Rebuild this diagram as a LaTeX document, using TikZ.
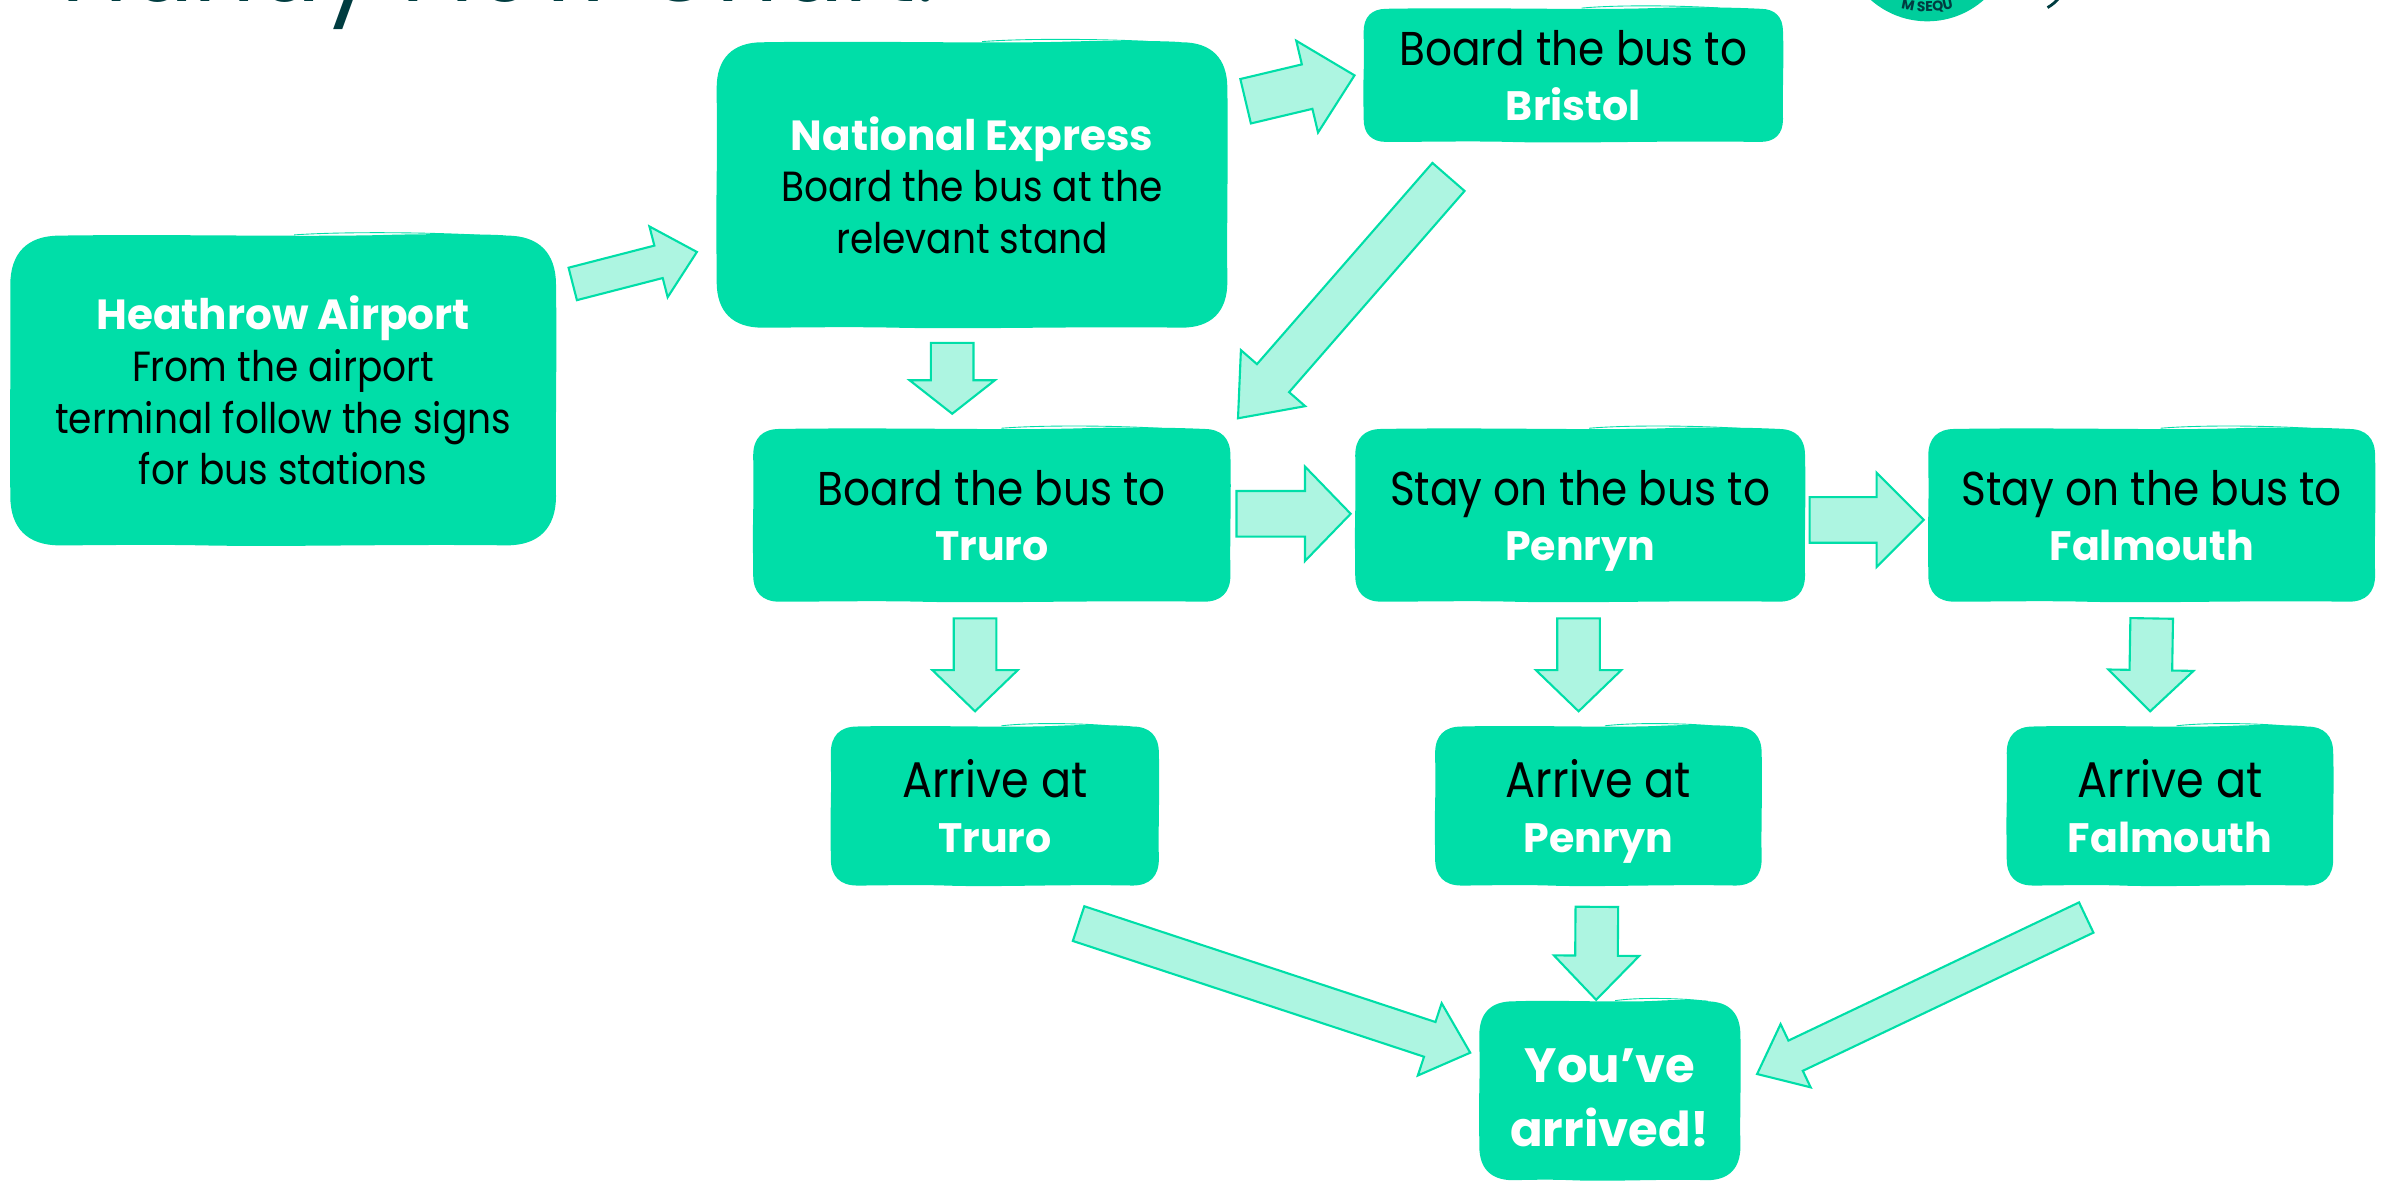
\documentclass[tikz,border=0pt]{standalone}
\usepackage{fontspec}
\setmainfont{Poppins}[FakeStretch=0.89, BoldFeatures={FakeStretch=1}]
\usetikzlibrary{positioning, calc, backgrounds, decorations.text}
\definecolor{boxgreen}{HTML}{00DEA8}
\definecolor{logogreen}{HTML}{00CE9C}
\definecolor{arrowfill}{HTML}{ADF5E1}
\definecolor{titleteal}{HTML}{003C40}
\newlength{\un}
\setlength{\un}{0.03045cm}
\newcommand{\place}[2][23.4]{\textcolor{white}{\fontsize{#1}{30}\selectfont\bfseries\raisebox{0pt}[\height][0pt]{#2}}}
% rough hand drawn box behind a node
\newcommand{\roughbox}[2]{
  \fill[boxgreen] let \p1=(#1.north west), \p2=(#1.south east), \n1={\x2-\x1}, \n2={\y1-\y2} in
    (\x1,\y1-#2) .. controls (\x1,\y1-.35*#2) and (\x1+.35*#2,\y1) .. (\x1+#2,\y1)
    .. controls (\x1+.3*\n1,\y1+1pt) and (\x1+.55*\n1,\y1-1pt) .. (\x1+.7*\n1,\y1+.5pt)
    .. controls (\x1+.8*\n1,\y1+1.2pt) and (\x1+.9*\n1,\y1+.6pt) .. (\x2-#2,\y1)
    .. controls (\x2-.35*#2,\y1) and (\x2,\y1-.35*#2) .. (\x2,\y1-#2)
    .. controls (\x2+.6pt,\y1-.4*\n2) and (\x2-.4pt,\y1-.6*\n2) .. (\x2,\y2+#2)
    .. controls (\x2,\y2+.35*#2) and (\x2-.35*#2,\y2) .. (\x2-#2,\y2)
    .. controls (\x1+.7*\n1,\y2+.8pt) and (\x1+.5*\n1,\y2-1pt) .. (\x1+.35*\n1,\y2)
    .. controls (\x1+.25*\n1,\y2+.6pt) and (\x1+.15*\n1,\y2) .. (\x1+#2,\y2)
    .. controls (\x1+.35*#2,\y2) and (\x1,\y2+.35*#2) .. (\x1,\y2+#2)
    .. controls (\x1-.5pt,\y2+.6*\n2) and (\x1+.4pt,\y2+.4*\n2) .. cycle;
  \draw[boxgreen, line width=.5pt] let \p1=(#1.north west), \p2=(#1.south east), \n1={\x2-\x1} in
    (\x1+.52*\n1,\y1+.4pt) .. controls (\x1+.6*\n1,\y1+2.2pt) and (\x1+.75*\n1,\y1+2pt) .. (\x1+.85*\n1,\y1+.4pt);
}
% block arrow between two named coordinates: shaft half width, head half width, head length
\newcommand{\flowarrow}[5]{
  \coordinate (headbase) at ($(#2)!#5*\un!(#1)$);
  \draw[flowline] ($(#1)!#3*\un!90:(#2)$) -- ($(headbase)!#3*\un!90:(#2)$) -- ($(headbase)!#4*\un!90:(#2)$)
    -- (#2) -- ($(headbase)!#4*\un!-90:(#2)$) -- ($(headbase)!#3*\un!-90:(#2)$) -- ($(#1)!#3*\un!-90:(#2)$) -- cycle;
}
\begin{document}
\begin{tikzpicture}[
    x=0.03045cm, y=-0.03045cm,
    flowbox/.style={align=center, inner sep=0pt, font=\fontsize{27}{31.6}\selectfont},
    tightbox/.style={flowbox, font=\fontsize{24}{29.4}\selectfont},
    arrivebox/.style={flowbox, font=\fontsize{28.5}{31.6}\selectfont, minimum height=104\un},
    flowline/.style={draw=boxgreen, fill=arrowfill, line width=1.2pt, line join=miter}
]
\useasboundingbox (0,0) rectangle (1568,776.4);

% title and logo, cut off by the page
\node[anchor=base west, inner sep=0pt, text=titleteal, font=\fontsize{62}{64}\selectfont] (title) at (40,1) {Handy Flow Chart:};
\fill[logogreen] (1266,-42) circle (56);
\path[decorate, decoration={text along path, text={|\bfseries\fontsize{8}{9}\selectfont\color{titleteal}|M SEQU}, text align=center}]
  (1232,-2) .. controls (1252,11) and (1280,11) .. (1300,-2);
\draw[titleteal, line width=1.6pt] (1353,-2) to[bend left=10] (1345,5);

% left column
\node[tightbox, minimum width=358\un, minimum height=203\un] (heathrow) at (186,256.5) {\place[24]{Heathrow Airport}\\From the airport\\terminal follow the signs\\for bus stations};
\node[tightbox, minimum width=335\un, minimum height=187\un] (national) at (638.5,121.5) {\place[24]{National Express}\\Board the bus at the\\relevant stand};
\node[flowbox, minimum width=275\un, minimum height=87\un] (bristol) at (1033.5,49.5) {Board the bus to\\\place{Bristol}};

% middle row
\node[flowbox, minimum width=313\un, minimum height=113\un] (truro) at (651.5,338.5) {Board the bus to\\\place{Truro}};
\node[flowbox, minimum width=295\un, minimum height=113\un, right=82\un of truro] (penryn) {Stay on the bus to\\\place{Penryn}};
\node[flowbox, minimum width=293\un, minimum height=113\un, right=81\un of penryn] (falmouth) {Stay on the bus to\\\place{Falmouth}};

% arrive row
\node[arrivebox, minimum width=215\un, below=82\un of truro, xshift=2\un] (arrtruro) {Arrive at\\\place{Truro}};
\node[arrivebox, minimum width=214\un, below=82\un of penryn, xshift=12\un] (arrpenryn) {Arrive at\\\place{Penryn}};
\node[arrivebox, minimum width=214\un, below=82\un of falmouth, xshift=12\un] (arrfalmouth) {Arrive at\\\place{Falmouth}};
\node[flowbox, font=\bfseries\fontsize{27.4}{36.4}\selectfont, text=white, minimum width=171\un, minimum height=117\un] (arrived) at (1057.5,716.5) {\rule{0pt}{27pt}You’ve\\arrived!};

\begin{scope}[on background layer]
\foreach \boxname/\boxr in {heathrow/28pt, national/26pt, bristol/13pt, truro/15pt, penryn/15pt, falmouth/15pt, arrtruro/15pt, arrpenryn/15pt, arrfalmouth/15pt, arrived/19pt}
  \roughbox{\boxname}{\boxr};
\end{scope}

% connector ends, set off from the boxes
\coordinate (a1s) at ($(heathrow.east)+(11,-70)$);
\coordinate (a1e) at ($(national.west)+(-13,44)$);
\coordinate (a2s) at ($(national.south)+(-13,10)$);
\coordinate (a2e) at ($(truro.north)+(-26,-10)$);
\coordinate (a3s) at ($(national.east)+(12,-55)$);
\coordinate (a3e) at ($(bristol.west)+(-6,0)$);
\coordinate (a4s) at ($(bristol.south)+(-82,23)$);
\coordinate (a4e) at ($(truro.north east)+(5,-7)$);
\coordinate (a5s) at ($(truro.east)+(4,-1)$);
\coordinate (a5e) at ($(penryn.west)+(-3,-1)$);
\coordinate (a6s) at ($(penryn.east)+(3,3)$);
\coordinate (a6e) at ($(falmouth.west)+(-3,3)$);
\coordinate (a7s) at ($(truro.south)+(-11,11)$);
\coordinate (a7e) at ($(arrtruro.north)+(-13,-10)$);
\coordinate (a8s) at ($(penryn.south)+(-1,11)$);
\coordinate (a8e) at ($(arrpenryn.north)+(-13,-10)$);
\coordinate (a9s) at ($(falmouth.south)+(0,11)$);
\coordinate (a9e) at ($(arrfalmouth.north)+(-13,-10)$);
\coordinate (a10s) at ($(arrtruro.south)+(55,25)$);
\coordinate (a10e) at ($(arrived.west)+(-6,-25)$);
\coordinate (a11s) at ($(arrpenryn.south)+(-1,14)$);
\coordinate (a11e) at ($(arrived.north)+(-9,-1)$);
\coordinate (a12s) at ($(arrfalmouth.south)+(-55,21)$);
\coordinate (a12e) at ($(arrived.east)+(11,-11)$);

\flowarrow{a1s}{a1e}{11}{24}{26}
\flowarrow{a2s}{a2e}{14}{28}{22}
\flowarrow{a3s}{a3e}{15}{31}{32}
\flowarrow{a4s}{a4e}{14}{28}{35}
\flowarrow{a5s}{a5e}{15}{31}{30}
\flowarrow{a6s}{a6e}{15}{31}{31}
\flowarrow{a7s}{a7e}{14}{28}{27}
\flowarrow{a8s}{a8e}{14}{28}{27}
\flowarrow{a9s}{a9e}{14}{28}{27}
\flowarrow{a10s}{a10e}{12}{25}{28}
\flowarrow{a11s}{a11e}{14}{28}{29}
\flowarrow{a12s}{a12e}{11}{23}{28}
\end{tikzpicture}
\end{document}
